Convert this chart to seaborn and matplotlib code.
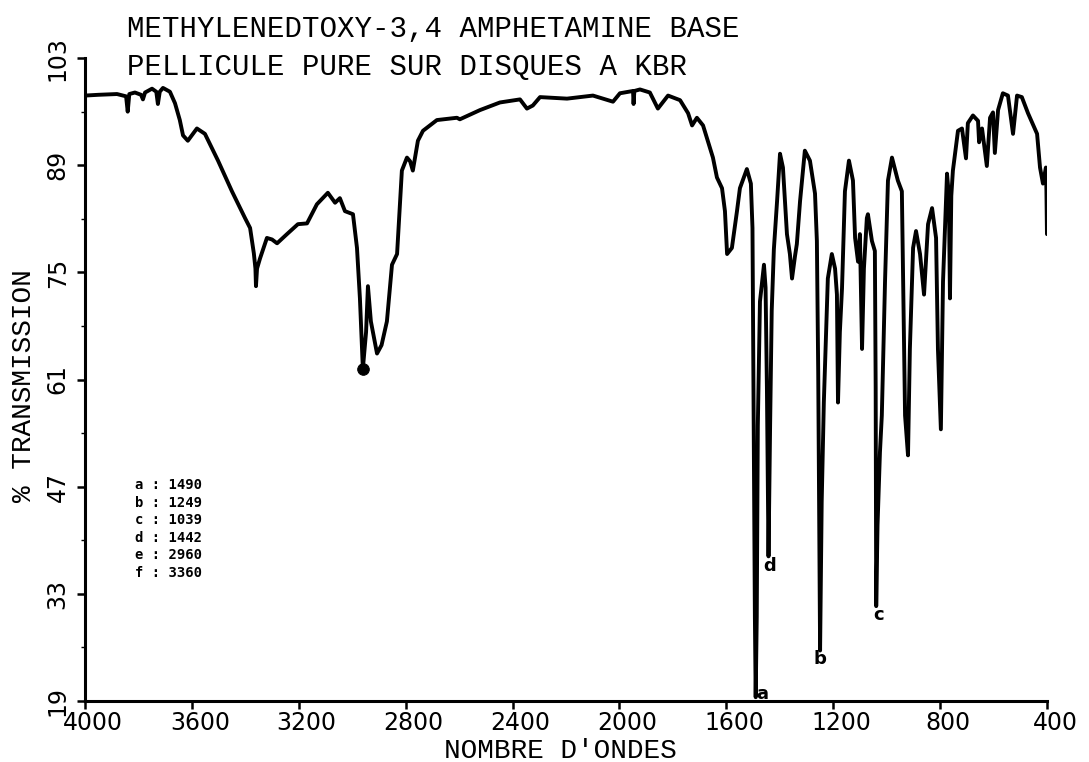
import numpy as np
import pandas as pd
import matplotlib
matplotlib.use("Agg")
import matplotlib.pyplot as plt
import matplotlib.transforms as mtransforms
import seaborn as sns

# ---------------- data ----------------
wavenumber = [
    4000, 3950, 3880, 3846, 3840, 3834, 3813, 3790, 3783, 3775, 3749, 3733, 3727, 3720,
    3708, 3682, 3663, 3645, 3633, 3615, 3581, 3551, 3502, 3450, 3401, 3382, 3368, 3362,
    3360, 3356, 3345, 3319, 3300, 3281, 3244, 3203, 3169, 3132, 3091, 3064, 3046, 3027,
    2997, 2982, 2971, 2960, 2948, 2941, 2930, 2907, 2890, 2870, 2851, 2832, 2814, 2795,
    2783, 2773, 2754, 2735, 2683, 2608, 2597, 2522, 2447, 2372, 2346, 2324, 2297, 2196,
    2099, 2024, 1998, 1949, 1947, 1944, 1923, 1886, 1856, 1818, 1773, 1743, 1728, 1710,
    1687, 1650, 1635, 1616, 1605, 1597, 1579, 1560, 1549, 1523, 1508, 1502, 1498, 1493,
    1490, 1486, 1482, 1474, 1459, 1453, 1448, 1442, 1436, 1430, 1422, 1410, 1399, 1388,
    1373, 1362, 1354, 1343, 1336, 1324, 1306, 1287, 1268, 1261, 1256, 1249, 1243, 1235,
    1220, 1205, 1193, 1186, 1182, 1175, 1167, 1156, 1141, 1126, 1118, 1107, 1100, 1092,
    1085, 1074, 1070, 1055, 1044, 1041, 1039, 1034, 1025, 1018, 1006, 995, 980, 958,
    943, 931, 920, 913, 901, 890, 875, 860, 845, 830, 815, 808, 797, 789,
    774, 767, 763, 758, 752, 744, 733, 718, 703, 696, 677, 658, 654, 643,
    625, 613, 602, 595, 583, 565, 546, 527, 512, 494, 471, 437, 426, 415,
    404, 402, 400,
]
transmission = [
    98.1, 98.2, 98.3, 98.0, 96.0, 98.3, 98.5, 98.2, 97.6, 98.5, 99.0, 98.6, 97.0, 98.6,
    99.1, 98.6, 97.1, 94.9, 92.9, 92.2, 93.8, 93.1, 89.6, 85.6, 82.1, 80.8, 77.5, 75.5,
    73.2, 75.5, 76.8, 79.5, 79.3, 78.8, 80.0, 81.3, 81.4, 83.9, 85.4, 84.1, 84.7, 83.0,
    82.6, 78.2, 71.6, 62.4, 67.2, 73.2, 68.6, 64.4, 65.5, 68.6, 76.0, 77.4, 88.3, 90.0,
    89.5, 88.3, 92.2, 93.5, 94.9, 95.2, 95.0, 96.2, 97.2, 97.6, 96.4, 96.8, 97.9, 97.7,
    98.1, 97.3, 98.4, 98.7, 97.0, 98.7, 98.9, 98.5, 96.4, 98.1, 97.5, 95.8, 94.2, 95.2,
    94.2, 90.0, 87.4, 86.0, 83.0, 77.4, 78.2, 83.0, 86.0, 88.5, 86.6, 80.8, 58.0, 30.0,
    19.5, 30.0, 55.0, 71.2, 76.0, 73.0, 60.0, 37.9, 55.0, 70.0, 78.0, 84.3, 90.5, 88.7,
    80.0, 77.4, 74.2, 77.1, 78.7, 84.3, 90.9, 89.6, 85.3, 79.1, 62.0, 25.6, 45.0, 58.0,
    74.2, 77.4, 75.5, 72.1, 58.0, 67.2, 72.9, 85.6, 89.6, 87.0, 79.5, 76.4, 80.0, 65.0,
    75.5, 82.1, 82.6, 79.1, 77.8, 60.0, 31.4, 42.0, 51.5, 56.3, 73.8, 87.0, 90.0, 87.0,
    85.6, 56.3, 51.1, 65.0, 78.2, 80.4, 77.4, 72.1, 81.3, 83.4, 79.5, 65.0, 54.5, 73.8,
    87.9, 85.0, 71.6, 85.0, 88.3, 90.5, 93.5, 93.8, 89.9, 94.5, 95.5, 94.8, 92.0, 93.8,
    88.9, 95.2, 95.9, 90.6, 96.2, 98.4, 98.1, 93.1, 98.1, 97.9, 95.8, 93.1, 88.7, 86.6,
    88.7, 85.6, 80.0,
]

x_ticks = [4000, 3600, 3200, 2800, 2400, 2000, 1600, 1200, 800, 400]
y_ticks = [19, 33, 47, 61, 75, 89, 103]
y_minor = [26, 40, 54, 68, 82, 96]

peak_letters = ["a", "b", "c", "d"]
peak_label_w = [1467, 1250, 1029, 1437]
peak_label_T = [19.9, 24.5, 30.2, 36.6]

marked_w = [2960]
marked_T = [62.4]

legend_letters = ["a", "b", "c", "d", "e", "f"]
legend_values = ["1490", "1249", "1039", "1442", "2960", "3360"]

title_lines = ["METHYLENEDTOXY-3,4 AMPHETAMINE BASE",
               "PELLICULE PURE SUR DISQUES A KBR"]
x_label = "NOMBRE D'ONDES"
y_label = "% TRANSMISSION"

# ---------------- figure ----------------
sns.set_theme(style="white")
plt.rcParams['font.family'] = ['DejaVu Sans']

fig = plt.figure(figsize=(10.89, 7.62), dpi=100)
ax = fig.add_axes([0.078, 0.080, 0.8834, 0.8438])

df = pd.DataFrame({"w": wavenumber, "T": transmission})
sns.lineplot(data=df, x="w", y="T", sort=False, estimator=None,
             color="black", linewidth=2.8, ax=ax)
sns.scatterplot(x=marked_w, y=marked_T, color="black", s=70,
                edgecolor="black", ax=ax, zorder=5)

ax.set_xlim(4000, 400)
ax.set_ylim(19, 103)

for s in ["top", "right"]:
    ax.spines[s].set_visible(False)
for s in ["left", "bottom"]:
    ax.spines[s].set_color("black")
    ax.spines[s].set_linewidth(2.2)

ax.set_xticks(x_ticks)
ax.set_xticklabels([str(v) for v in x_ticks])
ax.set_yticks(y_ticks)
ax.set_yticklabels([str(v) for v in y_ticks])
ax.set_yticks(y_minor, minor=True)

ax.tick_params(axis="x", which="major", direction="out", length=6, width=1.8,
               color="black", labelsize=17, pad=1, labelcolor="black", bottom=True)
ax.tick_params(axis="y", which="major", direction="out", length=6, width=1.8,
               color="black", labelsize=17, pad=5, labelcolor="black", left=True,
               labelrotation=90)
ax.tick_params(axis="y", which="minor", direction="out", length=3, width=1.0,
               color="black", left=True)

for lab in ax.get_yticklabels():
    lab.set_va("center")
offset = mtransforms.ScaledTranslation(8 / 100, 0, fig.dpi_scale_trans)
for lab in ax.get_xticklabels():
    lab.set_transform(lab.get_transform() + offset)

mono = ['Liberation Mono', 'DejaVu Sans Mono']
ax.set_xlabel(x_label, fontsize=20, family=mono, color="black", va="center")
ax.xaxis.set_label_coords(0.494, -0.077)
ax.set_ylabel(y_label, fontsize=20, family=mono, color="black", va="center")
ax.yaxis.set_label_coords(-0.063, 0.491)

fig.text(0.1166, 0.9514, title_lines[0], fontsize=21, family=mono,
         ha="left", va="baseline", color="black")
fig.text(0.1166, 0.9016, title_lines[1], fontsize=21, family=mono,
         ha="left", va="baseline", color="black")

# peak letters
for letter, w, t in zip(peak_letters, peak_label_w, peak_label_T):
    ax.text(w, t, letter, fontsize=13, fontweight="bold", ha="center",
            va="center", color="black")

# legend block
for i, (l, v) in enumerate(zip(legend_letters, legend_values)):
    ax.text(0.052, 0.336 - i * 0.0274, f"{l} : {v}", transform=ax.transAxes,
            fontsize=10, fontweight="bold", family=['DejaVu Sans Mono'],
            ha="left", va="center", color="black")

fig.savefig("out.png", dpi=100, facecolor="white")
